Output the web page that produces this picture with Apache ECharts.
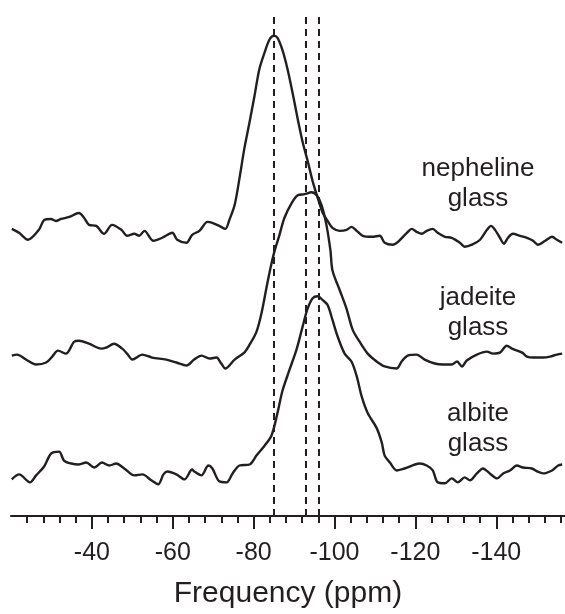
<!DOCTYPE html>
<html>
<head>
<meta charset="utf-8">
<script src="https://cdn.jsdelivr.net/npm/echarts@6/dist/echarts.min.js"></script>
<style>
    html, body { margin: 0; padding: 0; background: #fff; }
    #chart { width: 565px; height: 614px; }
</style>
</head>
<body>
<div id="chart"></div>
<script>
// 29Si 谱线, [ppm, 强度] (强度为任意单位, 已含堆叠偏移)
const nepheline = [
    [-20.2, 290], [-22.0, 286], [-24.2, 279], [-26.9, 289], [-28.2, 299], [-29.9, 300],
    [-31.1, 298], [-32.4, 300], [-34.4, 302], [-36.8, 306], [-38.1, 301], [-39.3, 294],
    [-41.1, 293], [-43.0, 285], [-45.0, 294], [-47.3, 289], [-48.7, 283], [-50.5, 285],
    [-51.7, 283], [-53.0, 288], [-55.2, 278], [-57.4, 281], [-59.9, 286], [-61.1, 279],
    [-63.4, 276], [-64.8, 284], [-66.6, 288], [-68.6, 297], [-69.8, 296], [-71.5, 293],
    [-73.0, 290], [-74.0, 299], [-75.3, 314], [-76.5, 341], [-77.7, 371], [-79.0, 398],
    [-80.2, 424], [-81.4, 451], [-82.7, 468], [-83.9, 481], [-85.0, 485], [-85.9, 483],
    [-87.1, 471], [-88.4, 451], [-89.6, 428], [-90.9, 401], [-92.1, 378], [-93.4, 358],
    [-94.6, 338], [-96.1, 318], [-97.1, 306], [-98.3, 298], [-99.5, 291], [-101.3, 288],
    [-103.0, 289], [-104.2, 292], [-105.5, 288], [-107.0, 283], [-109.2, 282], [-111.2, 283],
    [-112.4, 276], [-114.4, 274], [-117.9, 286], [-119.1, 290], [-120.3, 287], [-121.6, 285],
    [-122.8, 288], [-124.3, 290], [-125.5, 286], [-127.3, 282], [-129.0, 281], [-131.0, 276],
    [-132.2, 272], [-134.0, 274], [-136.0, 279], [-137.7, 289], [-138.7, 293], [-139.7, 289],
    [-140.9, 281], [-141.9, 275], [-142.9, 281], [-144.1, 285], [-145.9, 283], [-147.6, 281],
    [-149.1, 278], [-150.3, 274], [-152.1, 278], [-153.8, 282], [-155.0, 279], [-156.3, 276]
];

const jadeite = [
    [-20.2, 162], [-21.5, 163], [-23.7, 158], [-26.2, 153], [-28.7, 155], [-30.2, 161],
    [-31.6, 167], [-33.6, 164], [-35.6, 176], [-36.8, 177], [-39.3, 174], [-42.3, 169],
    [-43.5, 170], [-45.5, 174], [-47.5, 169], [-48.7, 164], [-50.0, 158], [-52.5, 163],
    [-54.9, 160], [-58.4, 158], [-60.9, 155], [-63.4, 152], [-65.3, 158], [-67.1, 162],
    [-69.1, 159], [-70.8, 160], [-72.0, 154], [-73.0, 149], [-75.3, 158], [-77.7, 165],
    [-79.0, 173], [-80.7, 186], [-81.9, 204], [-83.2, 231], [-84.2, 251], [-85.2, 268],
    [-86.4, 284], [-87.6, 301], [-89.4, 316], [-90.9, 324], [-92.6, 325], [-94.3, 327],
    [-95.6, 324], [-96.8, 314], [-98.0, 294], [-99.0, 268], [-99.5, 248], [-101.3, 228],
    [-103.0, 209], [-104.5, 188], [-106.2, 176], [-108.2, 164], [-110.4, 156], [-112.4, 151],
    [-115.4, 149], [-116.6, 156], [-118.1, 162], [-120.3, 163], [-122.3, 158], [-124.8, 154],
    [-126.8, 153], [-129.0, 153], [-130.3, 156], [-131.5, 151], [-132.7, 157], [-135.2, 163],
    [-137.7, 166], [-139.2, 164], [-140.9, 165], [-142.6, 172], [-143.9, 169], [-146.4, 165],
    [-147.6, 161], [-149.1, 160], [-151.6, 160], [-153.3, 161], [-155.0, 163], [-156.3, 164]
];

const albite = [
    [-20.2, 37], [-22.0, 42], [-24.7, 34], [-26.2, 41], [-28.2, 50], [-29.9, 63],
    [-31.9, 65], [-33.1, 56], [-34.9, 53], [-36.8, 52], [-38.6, 54], [-40.6, 49],
    [-42.5, 54], [-44.3, 51], [-46.0, 53], [-48.0, 48], [-50.5, 41], [-52.5, 42],
    [-54.7, 36], [-56.4, 32], [-57.7, 42], [-58.7, 45], [-60.9, 42], [-62.9, 37],
    [-64.8, 47], [-65.3, 45], [-67.1, 41], [-68.8, 51], [-69.8, 48], [-71.5, 35],
    [-73.3, 34], [-74.8, 43], [-76.5, 51], [-79.0, 52], [-80.7, 61], [-82.7, 71],
    [-84.4, 81], [-85.9, 104], [-87.1, 126], [-88.9, 148], [-90.6, 168], [-92.1, 191],
    [-93.3, 209], [-94.6, 220], [-95.8, 222], [-97.1, 218], [-98.3, 213], [-99.5, 198],
    [-100.8, 181], [-102.5, 164], [-104.2, 156], [-105.5, 141], [-106.7, 121], [-108.2, 104],
    [-110.4, 89], [-111.7, 74], [-112.4, 61], [-113.7, 54], [-115.4, 46], [-116.6, 47],
    [-118.1, 49], [-119.9, 52], [-121.1, 53], [-122.8, 51], [-124.3, 46], [-125.5, 34],
    [-127.3, 33], [-129.0, 38], [-130.5, 34], [-132.2, 39], [-133.5, 36], [-135.2, 43],
    [-136.7, 48], [-138.4, 43], [-140.2, 38], [-141.7, 43], [-143.4, 46], [-145.1, 51],
    [-146.6, 49], [-148.8, 48], [-150.1, 45], [-151.6, 43], [-153.8, 46], [-155.3, 51],
    [-156.3, 52]
];

// 虚线位置 (ppm)
const refLines = [-85, -93, -96];
// 主刻度及标签
const tickLabels = [-40, -60, -80, -100, -120, -140];
const sampleNames = ['nepheline\nglass', 'jadeite\nglass', 'albite\nglass'];

// 次刻度: 每 4 ppm 一个, 跳过主刻度
const minorTicks = [];
for (let v = -24; v >= -156; v -= 4) {
    if (v % 20 !== 0) minorTicks.push(v);
}

const INK = '#231f20';
const FONT = '"Liberation Sans", Arial, Helvetica, sans-serif';

document.addEventListener('DOMContentLoaded', function() {
    const chart = echarts.init(document.getElementById('chart'));

    function trace(data, withLines) {
        const s = {
            type: 'line',
            data: data,
            showSymbol: false,
            smooth: 0.3,
            lineStyle: { color: INK, width: 2.4 },
            silent: true
        };
        if (withLines) {
            s.markLine = {
                silent: true,
                symbol: 'none',
                label: { show: false },
                lineStyle: { color: INK, width: 2, type: [7, 5] },
                data: refLines.map(v => ({ xAxis: v }))
            };
        }
        return s;
    }

    const axisBase = {
        type: 'value',
        min: -157,
        max: -20,
        inverse: true,
        position: 'bottom',
        splitLine: { show: false }
    };

    const option = {
        animation: false,
        backgroundColor: '#fff',
        grid: { left: 11, right: 0, top: 13, bottom: 93 },
        xAxis: [
            Object.assign({}, axisBase, {
                axisLine: { lineStyle: { color: INK, width: 2.2 } },
                axisTick: {
                    length: 7,
                    customValues: minorTicks,
                    lineStyle: { color: INK, width: 2 }
                },
                axisLabel: { show: false }
            }),
            Object.assign({}, axisBase, {
                name: 'Frequency (ppm)',
                nameLocation: 'middle',
                nameGap: 63,
                nameTextStyle: { fontSize: 30, color: INK, fontFamily: FONT },
                axisLine: { show: false },
                axisTick: {
                    length: 13,
                    customValues: tickLabels,
                    lineStyle: { color: INK, width: 2 }
                },
                axisLabel: {
                    customValues: tickLabels,
                    margin: 25,
                    fontSize: 25,
                    color: INK,
                    fontFamily: FONT
                }
            })
        ],
        yAxis: {
            type: 'value',
            min: 0,
            max: 508,
            show: false
        },
        graphic: sampleNames.map((t, i) => ({
            type: 'text',
            x: 478,
            y: [184, 313, 429][i],
            style: {
                text: t,
                fill: INK,
                font: '26px ' + FONT,
                lineHeight: 30,
                align: 'center',
                verticalAlign: 'middle'
            }
        })),
        series: [
            trace(nepheline, true),
            trace(jadeite, false),
            trace(albite, false)
        ]
    };
    chart.setOption(option);
});
</script>
</body>
</html>
